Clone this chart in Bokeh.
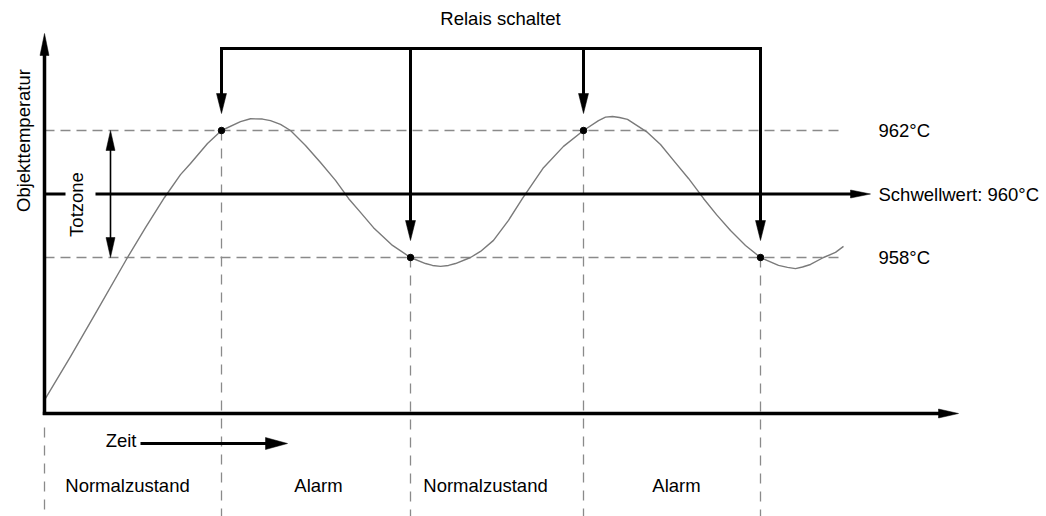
from bokeh.plotting import figure
from bokeh.models import Range1d, Label
from bokeh.embed import file_html
from bokeh.resources import INLINE

# ---------------- data ----------------
threshold_T = 960          # Schwellwert (°C)
upper_T = 962              # obere Totzonengrenze (°C)
lower_T = 958              # untere Totzonengrenze (°C)

switch_t = [221, 410, 583, 760]          # Zeitpunkte, an denen das Relais schaltet
switch_T = [962, 958, 962, 958]          # Temperatur beim Schalten

state_names = ["Normalzustand", "Alarm", "Normalzustand", "Alarm"]

curve_t = [45, 70, 95, 127, 145, 164, 180, 190, 207, 221,
           240, 250, 262, 270, 280, 290, 305, 320, 335, 348, 360, 373,
           392, 410, 425, 432, 440, 448, 455, 470, 480, 493, 508, 522,
           543, 563, 583, 598, 605, 612, 619, 627, 647, 660, 673, 688,
           703, 716, 730, 745, 760, 778, 787, 795, 802, 810, 823, 835, 843]
curve_T = [953.56, 954.88, 956.24, 958.00, 958.94, 959.89, 960.61, 960.96, 961.59, 962.00,
           962.28, 962.37, 962.36, 962.31, 962.19, 962.00, 961.53, 960.99, 960.43, 959.86, 959.42, 958.94,
           958.38, 958.00, 957.81, 957.75, 957.72, 957.75, 957.81, 958.00, 958.19, 958.54, 959.17, 959.86,
           960.83, 961.50, 962.00, 962.31, 962.42, 962.44, 962.41, 962.35, 961.94, 961.56, 961.06, 960.49,
           959.86, 959.35, 958.85, 958.38, 958.00, 957.75, 957.69, 957.65, 957.70, 957.78, 958.00, 958.16, 958.35]

level_labels = ["962°C", "Schwellwert: 960°C", "958°C"]
level_label_T = [962, 960, 958]

# ---------------- layout / style ----------------
W, H = 1046, 516
PX_X = 1.0            # time units per pixel
PX_Y = 4 / 127        # °C per pixel
T_top = upper_T + 130 * PX_Y
T_bot = upper_T - (H - 130) * PX_Y

t0 = 44               # time-axis origin
t_axis_end = 958
t_thr_end = 870
t_level_end = 843
t_label = 878
state_label_t = [127, 318, 485, 676]
T_axis = upper_T - 283 * PX_Y
T_yaxis_top = upper_T + 97 * PX_Y
T_relay = upper_T + 82 * PX_Y
T_relay_text = upper_T + 112 * PX_Y
T_zeit = upper_T - 313 * PX_Y
T_state = upper_T - 355 * PX_Y
T_vstart0 = upper_T - 297 * PX_Y

FONT = "Liberation Sans"
FS = "18.5px"
BLACK = "#000000"
GRAY_DASH = "#8a8a8a"
GRAY_CURVE = "#7a7a7a"

p = figure(width=W, height=H,
           x_range=Range1d(0, W), y_range=Range1d(T_bot, T_top),
           x_axis_type=None, y_axis_type=None,
           toolbar_location=None, output_backend="svg",
           min_border=0, outline_line_color=None,
           background_fill_color="white", border_fill_color="white")
p.grid.visible = False


def head(tx, ty, d, L, Wd):
    if d == "up":
        return [tx - Wd / 2 * PX_X, tx, tx + Wd / 2 * PX_X], [ty - L * PX_Y, ty, ty - L * PX_Y]
    if d == "down":
        return [tx - Wd / 2 * PX_X, tx, tx + Wd / 2 * PX_X], [ty + L * PX_Y, ty, ty + L * PX_Y]
    return [tx - L * PX_X, tx, tx - L * PX_X], [ty + Wd / 2 * PX_Y, ty, ty - Wd / 2 * PX_Y]


heads_x, heads_y = [], []

def add_head(*a):
    hx, hy = head(*a)
    heads_x.append(hx)
    heads_y.append(hy)

# dashed level lines (962 / 958)
for lvl in (upper_T, lower_T):
    p.line([t0, t_level_end], [lvl, lvl], line_color=GRAY_DASH, line_width=1.4, line_dash="10 6")

# vertical dashed lines
p.segment(x0=[t0], y0=[T_vstart0], x1=[t0], y1=[T_bot], line_color=GRAY_DASH, line_width=1.3, line_dash="10 8")
p.segment(x0=switch_t, y0=switch_T, x1=switch_t, y1=[T_bot] * len(switch_t),
          line_color=GRAY_DASH, line_width=1.3, line_dash="10 8")

# temperature curve
p.line(curve_t, curve_T, line_color=GRAY_CURVE, line_width=1.4, line_join="round")

# axes
p.line([t0, t0], [T_axis - 1.5 * PX_Y, T_yaxis_top - 18 * PX_Y], line_color=BLACK, line_width=3.5)
add_head(t0, T_yaxis_top, "up", 22, 9)
p.line([t0 - 1.7, t_axis_end - 18], [T_axis, T_axis], line_color=BLACK, line_width=3.5)
add_head(t_axis_end, T_axis, "right", 20, 9)

# threshold line with gap for "Totzone"
p.line([t0, 65], [threshold_T, threshold_T], line_color=BLACK, line_width=2.8)
p.line([95, t_thr_end - 18], [threshold_T, threshold_T], line_color=BLACK, line_width=2.8)
add_head(t_thr_end, threshold_T, "right", 20, 8)

# Totzone double arrow
tz_x = 110
p.line([tz_x, tz_x], [upper_T - 18 * PX_Y, lower_T + 18 * PX_Y], line_color=BLACK, line_width=1.6)
add_head(tz_x, upper_T, "up", 20, 9)
add_head(tz_x, lower_T, "down", 20, 9)

# relay bracket and arrows
tip_off = 17 * PX_Y
L_r = 20
tips = [T + tip_off for T in switch_T]
p.line([switch_t[0], switch_t[0], switch_t[-1], switch_t[-1]],
       [tips[0] + (L_r - 2) * PX_Y, T_relay, T_relay, tips[-1] + (L_r - 2) * PX_Y],
       line_color=BLACK, line_width=3, line_join="miter")
p.segment(x0=switch_t[1:-1], y0=[T_relay] * (len(switch_t) - 2),
          x1=switch_t[1:-1], y1=[T + (L_r - 2) * PX_Y for T in tips[1:-1]],
          line_color=BLACK, line_width=3)
for t, T in zip(switch_t, tips):
    add_head(t, T, "down", L_r, 10)

# time arrow
p.line([140, 287 - 18], [T_zeit, T_zeit], line_color=BLACK, line_width=2.8)
add_head(287, T_zeit, "right", 22, 12)

p.patches(heads_x, heads_y, fill_color=BLACK, line_color=BLACK, line_width=0.5)

# switch markers
p.scatter(switch_t, switch_T, size=6.5, fill_color=BLACK, line_color=BLACK)

# texts
def lab(x, y, text, align="left", base="middle", angle=0.0):
    p.add_layout(Label(x=x, y=y, text=text, text_font=FONT, text_font_size=FS,
                       text_color=BLACK, text_align=align, text_baseline=base, angle=angle))

for txt, T in zip(level_labels, level_label_T):
    lab(t_label, T, txt)
lab(500, T_relay_text, "Relais schaltet", align="center")
lab(136, T_zeit + 3 * PX_Y, "Zeit", align="right")
for name, x in zip(state_names, state_label_t):
    lab(x, T_state, name, align="center")
lab(23, upper_T - 10 * PX_Y, "Objekttemperatur", align="center", angle=1.5708)
lab(76, upper_T - 74 * PX_Y, "Totzone", align="center", angle=1.5708)

open("out.html", "w").write(file_html(p, INLINE))
